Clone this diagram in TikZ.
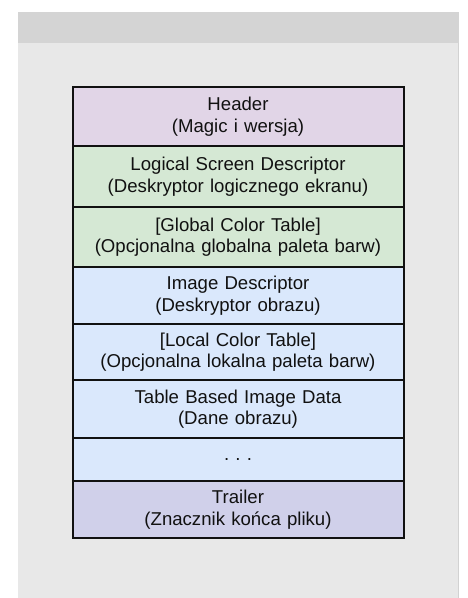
\documentclass[tikz,border=0pt]{standalone}
\usepackage{fontspec}
\setmainfont{Liberation Sans}
\usepackage{xcolor}
\usepackage{tikz}
\usetikzlibrary{positioning}
\definecolor{panel}{HTML}{E8E8E8}
\definecolor{band}{HTML}{D4D4D4}
\definecolor{edge}{HTML}{D2D2D2}
\definecolor{ink}{HTML}{111111}
\definecolor{purple}{HTML}{E1D5E7}
\definecolor{green}{HTML}{D5E8D4}
\definecolor{blue}{HTML}{DAE8FC}
\definecolor{lilac}{HTML}{D0D0EA}
\tikzset{
  row/.style={draw=ink, line width=2pt, outer sep=0pt, inner sep=0pt,
    minimum width=331pt, text width=325pt, align=center, text=ink,
    font=\fontsize{18.6}{21.5}\selectfont},
  hdr/.style={row, fill=purple},
  lsd/.style={row, fill=green},
  img/.style={row, fill=blue},
  trl/.style={row, fill=lilac},
}

\begin{document}
\begin{tikzpicture}[x=1pt, y=1pt]
  \useasboundingbox (0,0) rectangle (467,-598);

  % panel behind the stack
  \fill[panel] (18,-12) rectangle (459,-598);
  \fill[band] (18,-12) rectangle (459,-43);
  \draw[edge, line width=1pt] (458.5,-43) -- (458.5,-598);

  \node[hdr, minimum height=59pt, anchor=north] (header) at (238,-87.3)
    {Header\\(Magic i wersja)};
  \node[lsd, minimum height=60.5pt, below=0pt of header] (screen)
    {Logical Screen Descriptor\\(Deskryptor logicznego ekranu)};
  \node[lsd, minimum height=60.5pt, below=0pt of screen] (gct)
    {[Global Color Table]\\(Opcjonalna globalna paleta barw)};
  \node[img, minimum height=57pt, below=0pt of gct] (imgdesc)
    {Image Descriptor\\(Deskryptor obrazu)};
  \node[img, minimum height=56pt, below=0pt of imgdesc] (lct)
    {[Local Color Table]\\(Opcjonalna lokalna paleta barw)};
  \node[img, minimum height=58pt, below=0pt of lct] (data)
    {Table Based Image Data\\(Dane obrazu)};
  \node[img, minimum height=42.5pt, below=0pt of data] (more)
    {.\ .\ .};
  \node[trl, minimum height=57.5pt, below=0pt of more] (trailer)
    {Trailer\\(Znacznik końca pliku)};
\end{tikzpicture}
\end{document}
